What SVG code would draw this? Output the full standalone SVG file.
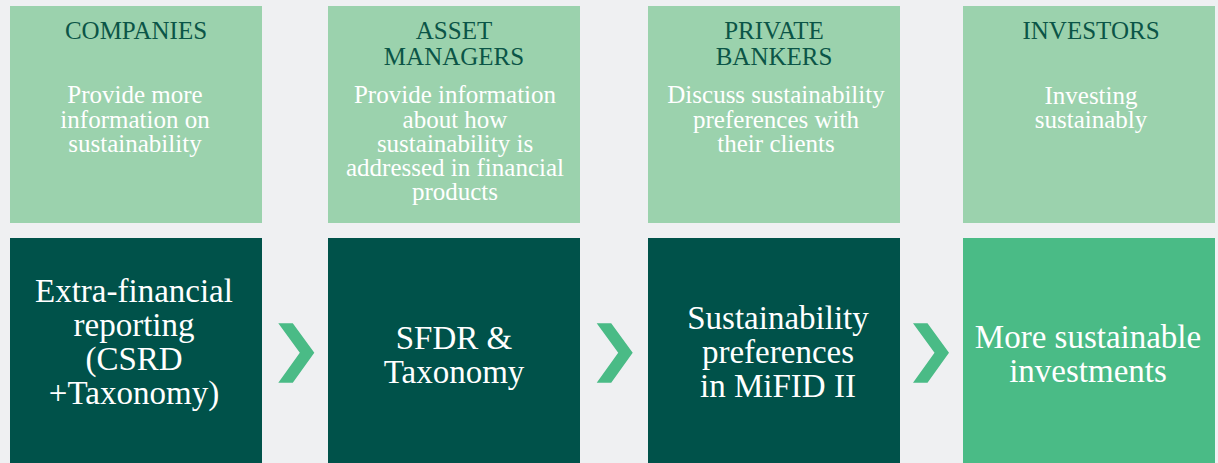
<svg xmlns="http://www.w3.org/2000/svg" width="1218" height="463" viewBox="0 0 1218 463">
<style>
.bg{fill:#eff0f2}
.top{fill:#9bd2ad}
.dark{fill:#00524a}
.bright{fill:#4abb86}
.chev{fill:#4abb86}
text{font-family:"Liberation Serif","Times New Roman",serif;text-anchor:middle}
.title{font-size:25px;fill:#0b5547}
.body{font-size:25px;fill:#ffffff}
.big{font-size:33px;fill:#ffffff}
</style>
<defs>
<polygon id="chevron" points="0,0 14.5,0 36,29.5 14.5,59.5 0,59.5 21.5,29.5"/>
</defs>
<rect class="bg" x="0" y="0" width="1218" height="463"/>

<g id="companies">
<rect class="top" x="10" y="6" width="252" height="217"/>
<text class="title" x="136" y="39">COMPANIES</text>
<text class="body" x="135" y="103">Provide more</text>
<text class="body" x="135" y="127.5">information on</text>
<text class="body" x="135" y="151.5">sustainability</text>
</g>
<g id="asset-managers">
<rect class="top" x="328" y="6" width="252" height="217"/>
<text class="title" x="454" y="39">ASSET</text>
<text class="title" x="454" y="65">MANAGERS</text>
<text class="body" x="455" y="103">Provide information</text>
<text class="body" x="455" y="127.5">about how</text>
<text class="body" x="455" y="151.5">sustainability is</text>
<text class="body" x="455" y="175.5">addressed in financial</text>
<text class="body" x="455" y="199.5">products</text>
</g>
<g id="private-bankers">
<rect class="top" x="648" y="6" width="252" height="217"/>
<text class="title" x="774" y="39">PRIVATE</text>
<text class="title" x="774" y="65">BANKERS</text>
<text class="body" x="776" y="103">Discuss sustainability</text>
<text class="body" x="776" y="127.5">preferences with</text>
<text class="body" x="776" y="151.5">their clients</text>
</g>
<g id="investors">
<rect class="top" x="963" y="6" width="252" height="217"/>
<text class="title" x="1091" y="39">INVESTORS</text>
<text class="body" x="1091" y="104">Investing</text>
<text class="body" x="1091" y="127.5">sustainably</text>
</g>

<g id="extra-financial-reporting">
<rect class="dark" x="10" y="238" width="252" height="230"/>
<text class="big" x="134" y="301.5">Extra-financial</text>
<text class="big" x="134" y="335.5">reporting</text>
<text class="big" x="134" y="370">(CSRD</text>
<text class="big" x="134" y="404">+Taxonomy)</text>
</g>
<g id="sfdr-taxonomy">
<rect class="dark" x="328" y="238" width="252" height="230"/>
<text class="big" x="454" y="348.5">SFDR &amp;</text>
<text class="big" x="454" y="382.5">Taxonomy</text>
</g>
<g id="mifid">
<rect class="dark" x="648" y="238" width="252" height="230"/>
<text class="big" x="778" y="328.5">Sustainability</text>
<text class="big" x="778" y="362.5">preferences</text>
<text class="big" x="778" y="396.5">in MiFID II</text>
</g>
<g id="more-sustainable-investments">
<rect class="bright" x="963" y="238" width="252" height="230"/>
<text class="big" x="1088" y="347.5">More sustainable</text>
<text class="big" x="1088" y="381.5">investments</text>
</g>

<g id="connectors">
<use href="#chevron" class="chev" x="278.3" y="323.3"/>
<use href="#chevron" class="chev" x="596.7" y="323.3"/>
<use href="#chevron" class="chev" x="913" y="323.3"/>
</g>
</svg>
